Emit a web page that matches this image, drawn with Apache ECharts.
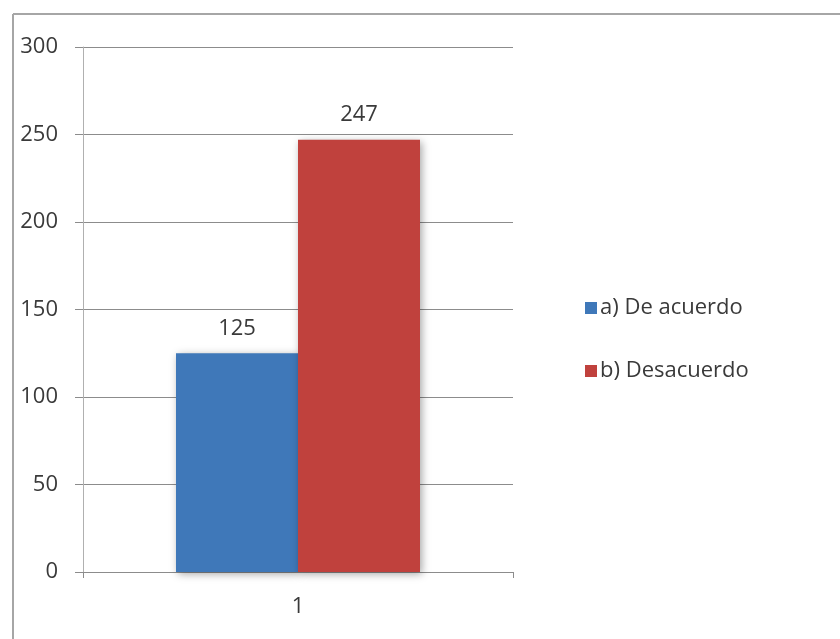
<!DOCTYPE html>
<html><head><meta charset="utf-8">
<script src="https://cdn.jsdelivr.net/npm/echarts@6/dist/echarts.min.js"></script>
<style>html,body{margin:0;padding:0;background:#fff}#c{width:840px;height:639px}</style>
</head><body><div id="c"></div>
<script>
const categories = ['1'];
const seriesNames = ['a) De acuerdo', 'b) Desacuerdo'];
const deAcuerdo = [125];
const desacuerdo = [247];
const yTicks = [0, 50, 100, 150, 200, 250, 300];

const chart = echarts.init(document.getElementById('c'));
const font = 'Open Sans, "DejaVu Sans", sans-serif';
const txt = '#3a3a3a';
chart.setOption({
  animation: false,
  backgroundColor: '#fff',
  textStyle: { fontFamily: font },
  graphic: [
    { type: 'line', shape: { x1: 13, y1: 14, x2: 840, y2: 14 }, style: { stroke: '#a6a6a6', lineWidth: 2 } },
    { type: 'line', shape: { x1: 13, y1: 14, x2: 13, y2: 639 }, style: { stroke: '#a6a6a6', lineWidth: 2 } }
  ],
  grid: { left: 83, top: 47, width: 430, height: 525 },
  legend: {
    orient: 'vertical', left: 580, top: 292, itemGap: 41,
    itemWidth: 12, itemHeight: 12, icon: 'rect',
    textStyle: { fontSize: 22, color: txt, fontFamily: font, padding: [0, 0, 0, -2] },
    data: seriesNames
  },
  xAxis: {
    type: 'category', data: categories,
    axisLine: { lineStyle: { color: '#8c8c8c' } },
    axisTick: { show: true, length: 6, lineStyle: { color: '#8c8c8c' } },
    axisLabel: { fontSize: 22, color: txt, margin: 24 }
  },
  yAxis: {
    type: 'value', min: yTicks[0], max: yTicks[yTicks.length - 1], interval: 50,
    axisLine: { show: true, lineStyle: { color: '#b0b0b0' } },
    axisTick: { show: true, length: 8, lineStyle: { color: '#8c8c8c' } },
    splitLine: { lineStyle: { color: '#8c8c8c' } },
    axisLabel: { fontSize: 22, color: txt, margin: 25 }
  },
  series: [
    {
      name: seriesNames[0], type: 'bar', data: deAcuerdo, barWidth: 122, barGap: '0%',
      itemStyle: { color: '#3f78b9', shadowColor: 'rgba(0,0,0,0.35)', shadowBlur: 8, shadowOffsetX: 2, shadowOffsetY: 2 },
      label: { show: true, position: 'top', fontSize: 22, color: txt, distance: 14 }
    },
    {
      name: seriesNames[1], type: 'bar', data: desacuerdo, barWidth: 122,
      itemStyle: { color: '#c0413d', shadowColor: 'rgba(0,0,0,0.35)', shadowBlur: 8, shadowOffsetX: 2, shadowOffsetY: 2 },
      label: { show: true, position: 'top', fontSize: 22, color: txt, distance: 14 }
    }
  ]
});
</script></body></html>
